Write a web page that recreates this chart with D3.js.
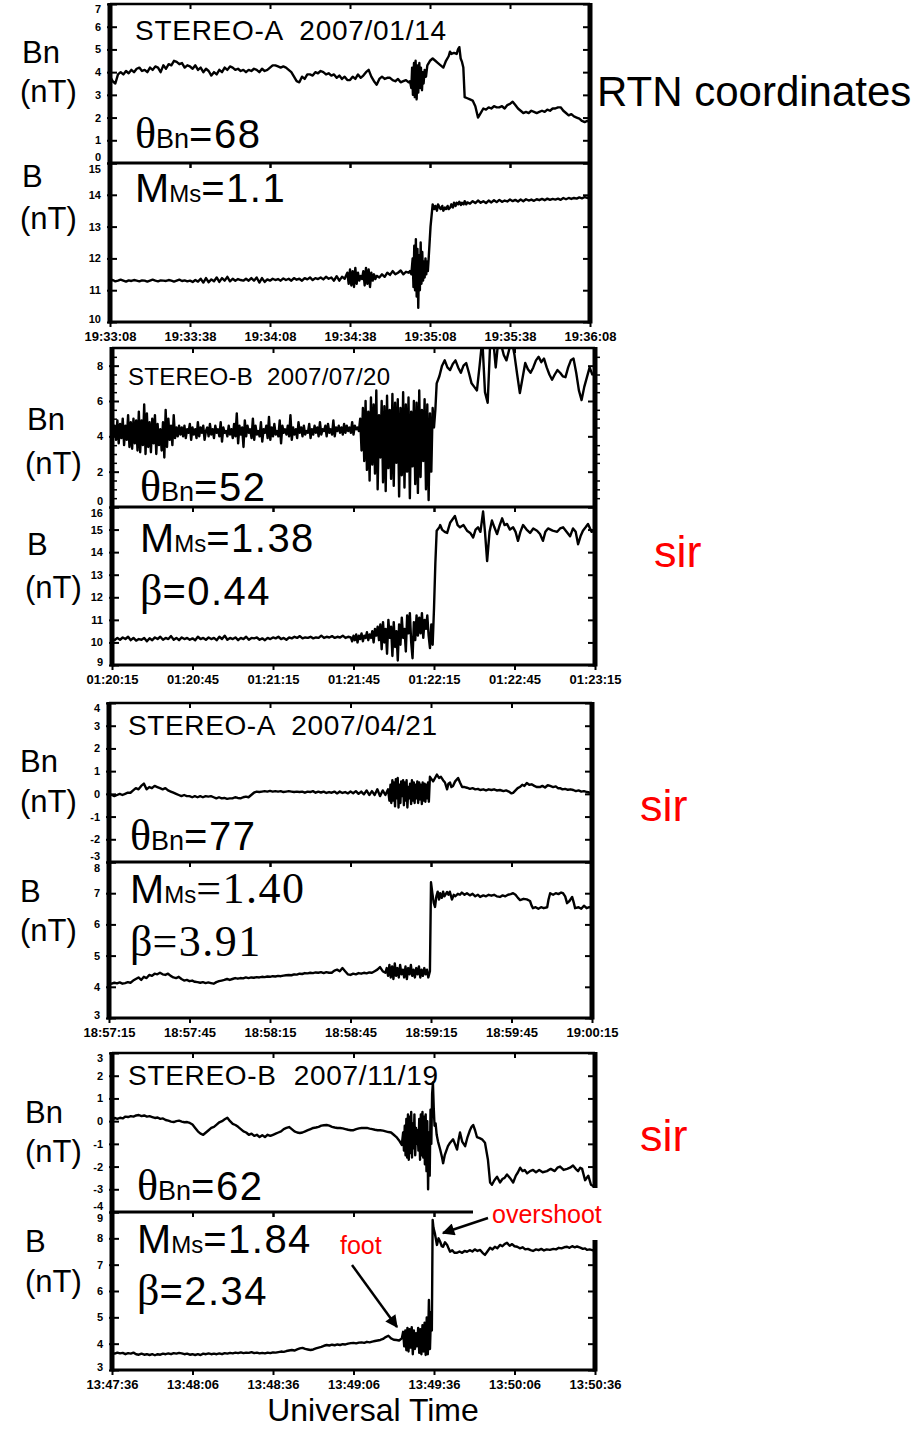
<!DOCTYPE html>
<html>
<head>
<meta charset="utf-8">
<script src="https://cdn.jsdelivr.net/npm/d3@7"></script>
<style>
  body { margin: 0; background: #fff; }
  svg { display: block; }
</style>
</head>
<body>
<svg id="fig" width="919" height="1431"></svg>
<script>
// ---------- tick marks and labels ----------
const timeTicks = [0, 30, 60, 90, 120, 150, 180]; // seconds from first label
const timeLabelsA0114 = ["19:33:08","19:33:38","19:34:08","19:34:38","19:35:08","19:35:38","19:36:08"];
const timeLabelsB0720 = ["01:20:15","01:20:45","01:21:15","01:21:45","01:22:15","01:22:45","01:23:15"];
const timeLabelsA0421 = ["18:57:15","18:57:45","18:58:15","18:58:45","18:59:15","18:59:45","19:00:15"];
const timeLabelsB1119 = ["13:47:36","13:48:06","13:48:36","13:49:06","13:49:36","13:50:06","13:50:36"];

const bnTicksA0114 = [0,1,2,3,4,5,6,7];
const bTicksA0114  = [10,11,12,13,14,15];
const bnTicksB0720 = [0,2,4,6,8];
const bnMinorB0720 = [0.5,1,1.5,2.5,3,3.5,4.5,5,5.5,6.5,7,7.5,8.5];
const bTicksB0720  = [9,10,11,12,13,14,15,16];
const bnTicksA0421 = [-3,-2,-1,0,1,2,3,4];
const bTicksA0421  = [3,4,5,6,7,8];
const bnTicksB1119 = [-4,-3,-2,-1,0,1,2,3];
const bTicksB1119  = [3,4,5,6,7,8,9];

// ---------- event annotations ----------
const eventTitles = ["STEREO-A  2007/01/14", "STEREO-B  2007/07/20", "STEREO-A  2007/04/21", "STEREO-B  2007/11/19"];
const thetaBn = ["68", "52", "77", "62"];
const machMs  = ["1.1", "1.38", "1.40", "1.84"];
const betaVals = [null, "0.44", "3.91", "2.34"];
const eventTypes = [null, "sir", "sir", "sir"];

// ---------- STEREO-A 2007/01/14 : [seconds, nT] ----------
const bnA0114 = [[0,3.8],[1,3.6],[2,3.5],[3,3.9],[4,4.0],[5,3.9],[6,4.05],[7,3.95],[8,4.1],[9,4.0],[10,4.15],[11,4.2],[12,4.05],[13,4.1],[14,4.0],[15,4.2],[16,4.1],[17,4.25],[18,4.2],[19,4.0],[20,4.3],[21,4.15],[22,4.35],[23,4.3],[24,4.5],[25,4.45],[26,4.35],[27,4.4],[28,4.2],[29,4.3],[30,4.25],[31,4.15],[32,4.3],[33,4.1],[34,4.2],[35,4.0],[36,4.15],[37,4.05],[38,3.85],[39,4.0],[40,3.9],[41,4.1],[42,4.0],[43,4.2],[44,4.1],[45,4.25],[46,4.2],[47,4.1],[48,4.15],[49,4.05],[50,4.1],[51,4.0],[52,4.1],[53,4.05],[54,4.15],[55,4.1],[56,4.0],[57,4.15],[58,4.05],[59,4.1],[60,4.2],[61,4.3],[62,4.3],[63,4.25],[64,4.2],[65,4.25],[66,4.2],[67,4.1],[68,4.0],[69,3.8],[70,3.6],[71,3.55],[72,3.8],[73,3.7],[74,3.9],[75,3.9],[76,3.85],[77,4.0],[78,3.95],[79,4.05],[80,4.0],[81,3.9],[82,3.95],[83,3.85],[84,3.9],[85,3.75],[86,3.85],[87,3.7],[88,3.8],[89,3.65],[90,3.65],[91,3.8],[92,3.7],[93,3.9],[94,3.75],[95,3.85],[96,4.0],[97,4.1],[98,3.8],[99,3.6],[100,3.45],[101,3.7],[102,3.8],[103,3.7],[104,3.75],[105,3.75],[106,3.65],[107,3.6],[108,3.7],[109,3.55],[110,3.6],[111,3.65],[112,3.55],[112.5,3.6],[113,3.3],[113.3,4.2],[113.6,3.0],[114,4.4],[114.3,2.9],[114.6,4.5],[115,2.8],[115.3,4.3],[115.6,3.1],[116,4.4],[116.3,3.3],[116.6,4.2],[117,3.2],[117.3,4.0],[117.6,3.5],[118,4.1],[118.5,3.8],[119,4.3],[120,4.5],[121,4.6],[122,4.5],[123,4.4],[124,4.3],[125,4.2],[126,4.5],[127,4.7],[127.5,4.9],[128,4.8],[129,4.85],[130,4.8],[130.5,5.0],[131,5.1],[131.5,4.6],[132,4.45],[132.5,4.2],[133,2.9],[134,2.85],[135,2.8],[136,2.75],[137,2.5],[138,2.0],[139,2.2],[140,2.4],[141,2.35],[142,2.45],[143,2.4],[144,2.5],[145,2.45],[146,2.45],[147,2.5],[148,2.4],[149,2.55],[150,2.6],[151,2.7],[152,2.55],[153,2.4],[154,2.3],[155,2.2],[156,2.25],[157,2.2],[158,2.3],[159,2.25],[160,2.2],[161,2.25],[162,2.3],[163,2.25],[164,2.35],[165,2.3],[166,2.4],[167,2.4],[168,2.45],[169,2.45],[170,2.3],[171,2.2],[172,2.1],[173,2.15],[174,2.05],[175,2.0],[176,1.95],[177,1.85],[178,1.8],[179,1.85],[180,1.8]];

const bA0114 = [[0,11.3],[1,11.32],[2,11.28],[3,11.3],[4,11.33],[5,11.3],[6,11.27],[7,11.31],[8,11.29],[9,11.32],[10,11.3],[11,11.28],[12,11.31],[13,11.3],[14,11.27],[15,11.3],[16,11.33],[17,11.3],[18,11.28],[19,11.31],[20,11.3],[21,11.29],[22,11.32],[23,11.3],[24,11.27],[25,11.3],[26,11.33],[27,11.29],[28,11.31],[29,11.28],[30,11.3],[31,11.26],[32,11.32],[33,11.27],[34,11.36],[35,11.24],[36,11.38],[37,11.25],[38,11.34],[39,11.28],[40,11.4],[41,11.26],[42,11.38],[43,11.3],[44,11.42],[45,11.28],[46,11.36],[47,11.3],[48,11.35],[49,11.32],[50,11.3],[51,11.36],[52,11.3],[53,11.38],[54,11.3],[55,11.4],[56,11.24],[57,11.38],[58,11.26],[59,11.34],[60,11.3],[61,11.36],[62,11.32],[63,11.35],[64,11.3],[65,11.37],[66,11.32],[67,11.36],[68,11.3],[69,11.38],[70,11.33],[71,11.36],[72,11.3],[73,11.38],[74,11.34],[75,11.4],[76,11.32],[77,11.38],[78,11.35],[79,11.4],[80,11.34],[81,11.42],[82,11.36],[83,11.4],[84,11.3],[85,11.44],[86,11.3],[87,11.42],[88,11.36],[89,11.55],[89.5,11.2],[90,11.65],[90.5,11.15],[91,11.6],[91.5,11.1],[92,11.7],[92.5,11.2],[93,11.55],[93.5,11.3],[94,11.45],[94.5,11.35],[95,11.6],[95.5,11.15],[96,11.7],[96.5,11.2],[97,11.65],[97.5,11.1],[98,11.55],[98.5,11.3],[99,11.5],[99.5,11.35],[100,11.45],[101,11.4],[102,11.5],[103,11.42],[104,11.55],[105,11.48],[106,11.6],[107,11.5],[108,11.55],[109,11.62],[110,11.5],[111,11.58],[112,11.55],[112.5,11.6],[113,11.5],[113.5,12.0],[113.8,11.1],[114.1,12.4],[114.4,11.0],[114.7,12.6],[115,10.8],[115.3,12.3],[115.6,10.45],[115.9,12.1],[116.2,11.0],[116.5,12.5],[116.8,11.2],[117.1,12.2],[117.4,11.3],[117.7,11.9],[118,11.4],[118.3,12.0],[118.6,11.5],[118.9,11.9],[119.2,11.6],[119.5,12.0],[120.2,13.0],[121,13.7],[121.6,13.55],[122,13.65],[122.6,13.5],[123,13.7],[123.6,13.6],[124,13.55],[124.6,13.65],[125,13.5],[125.6,13.6],[126,13.55],[126.6,13.65],[127,13.55],[127.6,13.6],[128,13.7],[128.6,13.6],[129,13.75],[129.6,13.65],[130,13.75],[130.6,13.7],[131,13.78],[131.6,13.68],[132,13.75],[132.6,13.7],[133,13.8],[133.6,13.7],[134,13.76],[135,13.72],[136,13.8],[137,13.74],[138,13.82],[139,13.75],[140,13.8],[141,13.74],[142,13.82],[143,13.76],[144,13.83],[145,13.77],[146,13.84],[147,13.78],[148,13.82],[149,13.79],[150,13.85],[151,13.8],[152,13.84],[153,13.79],[154,13.85],[155,13.8],[156,13.86],[157,13.82],[158,13.85],[159,13.81],[160,13.86],[161,13.83],[162,13.87],[163,13.83],[164,13.88],[165,13.84],[166,13.87],[167,13.85],[168,13.88],[169,13.84],[170,13.9],[171,13.86],[172,13.9],[173,13.87],[174,13.9],[175,13.88],[176,13.92],[177,13.89],[178,13.93],[179,13.9],[180,13.95]];

// ---------- STEREO-B 2007/07/20 ----------
// Bn sampled every 0.5 s from 0 s to 120.5 s, then irregular samples
const bnB0720Dense = [
  4.4,4.0,4.6,3.8,4.9,3.6,4.7,3.9,5.0,3.5,4.6,3.8,5.2,3.4,4.8,3.3,5.0,3.6,4.9,3.2,5.4,3.1,4.9,3.5,5.8,3.0,5.3,3.4,4.8,3.1,5.0,3.6,5.2,3.0,4.7,3.5,4.4,3.2,4.8,2.8,5.5,3.4,5.0,3.8,4.6,3.5,5.2,3.9,4.5,4.0,4.6,
  4.1,4.5,4.0,4.6,3.9,4.4,4.2,4.7,3.8,4.5,4.1,4.4,3.9,4.8,4.0,4.5,4.2,4.6,3.8,4.3,
  4.5,4.0,4.7,4.1,4.4,3.9,4.6,4.2,4.4,4.0,4.8,3.7,4.5,4.2,4.3,4.0,4.6,4.1,4.4,3.9,
  4.7,4.0,5.3,3.6,4.6,4.1,4.5,3.4,4.9,4.0,4.6,4.2,4.4,3.9,5.0,3.8,4.6,4.1,4.3,4.0,
  4.8,3.7,4.4,4.2,4.6,3.9,5.1,3.8,4.5,4.0,4.7,4.1,4.3,4.0,4.9,3.6,4.6,4.2,4.4,4.1,
  4.6,4.0,5.2,3.8,4.5,4.1,4.4,3.9,4.8,4.2,4.5,4.0,4.6,4.1,4.3,4.2,4.7,3.9,4.4,4.1,
  4.6,4.2,4.5,4.0,4.8,4.1,4.4,4.3,4.6,4.0,4.7,4.2,4.4,4.1,4.9,4.0,4.5,4.3,4.6,4.2,
  4.5,4.1,4.7,4.2,4.6,4.3,4.5,4.2,4.8,4.1,4.6,4.4,4.5,4.3,
  5.0,3.2,5.6,2.6,6.0,2.1,5.4,1.5,6.2,2.4,5.8,1.9,6.6,1.0,5.2,2.8,6.0,1.4,5.7,0.9,
  6.3,2.2,5.5,1.6,6.4,1.2,5.9,2.5,6.1,0.6,5.6,1.8,6.5,1.1,5.8,2.0,6.2,0.5,5.4,2.3,
  6.0,1.3,5.9,0.8,6.6,1.7,5.5,2.6,6.1,1.0,5.8,0.4,5.3,2.0,5.6,4.5,5.5
];
const bnB0720Tail = [[121,7.0],[122,7.4],[123,8.0],[124,8.3],[125,7.9],[126,7.75],[127,8.1],[128,8.3],[129,7.9],[130,7.6],[131,8.0],[132,8.15],[133,7.6],[134,7.0],[135,6.8],[136,6.6],[137,8.0],[138,9.5],[139,6.5],[140,5.9],[141,9.5],[142,9.6],[143,7.9],[144,9.5],[145,9.2],[146,8.6],[147,8.3],[148,8.9],[149,9.4],[150,8.6],[151,7.5],[152,6.45],[153,7.3],[154,8.15],[155,7.8],[156,7.6],[157,7.9],[158,8.3],[159,8.5],[160,8.2],[161,8.4],[162,7.9],[163,7.5],[164,7.2],[165,7.5],[166,7.75],[167,7.6],[168,7.4],[169,7.35],[170,7.9],[171,8.3],[172,8.4],[173,7.6],[174,6.6],[175,6.05],[176,6.8],[177,7.35],[178,7.9],[179,7.5],[180,7.6]];

const bB0720 = [[0,10.15],[1,10.1],[2,10.2],[3,10.12],[4,10.22],[5,10.15],[6,10.25],[7,10.1],[8,10.2],[9,10.08],[10,10.15],[11,10.12],[12,10.2],[13,10.05],[14,10.18],[15,10.1],[16,10.22],[17,10.15],[18,10.25],[19,10.12],[20,10.2],[21,10.15],[22,10.28],[23,10.12],[24,10.2],[25,10.1],[26,10.22],[27,10.15],[28,10.2],[29,10.12],[30,10.18],[31,10.1],[32,10.25],[33,10.15],[34,10.2],[35,10.12],[36,10.22],[37,10.15],[38,10.2],[39,10.1],[40,10.25],[41,10.15],[42,10.3],[43,10.12],[44,10.2],[45,10.15],[46,10.22],[47,10.1],[48,10.2],[49,10.15],[50,10.25],[51,10.12],[52,10.2],[53,10.18],[54,10.22],[55,10.12],[56,10.18],[57,10.1],[58,10.2],[59,10.15],[60,10.22],[61,10.18],[62,10.25],[63,10.15],[64,10.2],[65,10.12],[66,10.22],[67,10.18],[68,10.25],[69,10.2],[70,10.28],[71,10.18],[72,10.22],[73,10.2],[74,10.25],[75,10.18],[76,10.22],[77,10.2],[78,10.3],[79,10.2],[80,10.25],[81,10.22],[82,10.28],[83,10.2],[84,10.25],[85,10.22],[86,10.3],[87,10.2],[88,10.25],[89,10.22],[89.5,10.05],[90,10.3],[90.5,10.1],[91,10.35],[91.5,10.0],[92,10.3],[92.5,10.15],[93,10.4],[93.5,10.05],[94,10.3],[94.5,10.2],[95,10.45],[95.5,10.1],[96,10.35],[96.5,10.2],[97,10.5],[97.5,10.0],[98,10.6],[98.5,10.3],[99,10.7],[99.5,10.1],[100,10.8],[100.5,9.7],[101,10.9],[101.5,10.0],[102,10.6],[102.5,9.5],[103,11.0],[103.5,10.2],[104,10.7],[104.5,9.4],[105,10.9],[105.5,9.8],[106,10.5],[106.5,9.2],[107,10.8],[107.5,9.9],[108,11.1],[108.5,10.2],[109,10.6],[109.5,9.6],[110,11.2],[110.5,10.4],[111,11.3],[111.5,10.0],[112,9.3],[112.5,10.9],[113,10.1],[113.5,11.2],[114,10.3],[114.5,11.1],[115,10.4],[115.5,11.3],[116,10.2],[116.5,11.0],[117,10.6],[117.5,11.2],[118,10.3],[118.5,9.75],[119,10.8],[119.5,9.9],[120,11.5],[120.5,13.5],[121,14.95],[122,15.1],[122.3,15.2],[123,15.0],[124,14.9],[124.9,14.85],[126,15.3],[127.8,15.6],[128.8,15.2],[129.7,15.1],[131,15.2],[132.3,14.95],[133.5,14.85],[134.6,14.65],[135.5,15.0],[136.4,15.1],[137.3,14.9],[138.3,15.8],[139,14.9],[139.8,13.6],[140.7,14.9],[141.6,15.4],[142.5,15.1],[143.5,14.8],[144.5,15.2],[145.4,15.5],[146.3,15.2],[147.2,15.25],[148.3,15.0],[149.5,15.1],[150.4,14.9],[151.3,14.5],[152.2,14.9],[153.2,15.2],[154.5,15.0],[155.8,14.85],[157,15.05],[158.4,14.95],[159.5,14.8],[160.6,14.5],[161.5,14.9],[162.5,15.05],[164.2,14.95],[165.9,14.9],[167,15.05],[168.1,15.1],[169.4,14.9],[170.7,14.7],[171.8,15.05],[172.8,14.9],[173.7,14.35],[174.6,14.7],[175.5,14.95],[176.5,15.1],[177.4,15.25],[178.7,14.9],[180,14.95]];

// ---------- STEREO-A 2007/04/21 ----------
const bnA0421 = [[0,0.0],[1,-0.05],[2,-0.1],[3,-0.05],[4,0.0],[5,-0.05],[6,0.0],[7,0.05],[8,0.05],[9,0.15],[10,0.25],[11,0.2],[12,0.35],[13,0.45],[14,0.2],[15,0.3],[16,0.25],[17,0.35],[18,0.3],[19,0.25],[20,0.2],[21,0.25],[22,0.15],[23,0.1],[24,0.05],[25,0.0],[26,-0.05],[27,-0.1],[28,-0.05],[29,-0.1],[30,-0.1],[31,-0.15],[32,-0.1],[33,-0.15],[34,-0.1],[35,-0.15],[36,-0.1],[37,-0.12],[38,-0.1],[39,-0.15],[40,-0.2],[41,-0.15],[42,-0.2],[43,-0.18],[44,-0.22],[45,-0.2],[46,-0.2],[47,-0.15],[48,-0.18],[49,-0.2],[50,-0.15],[51,-0.12],[52,-0.15],[53,-0.05],[54,0.05],[55,0.1],[56,0.08],[57,0.1],[58,0.12],[59,0.1],[60,0.13],[61,0.1],[62,0.12],[63,0.1],[64,0.12],[65,0.08],[66,0.1],[67,0.12],[68,0.1],[69,0.08],[70,0.1],[71,0.08],[72,0.1],[73,0.05],[74,0.1],[75,0.08],[76,0.12],[77,0.05],[78,0.1],[79,0.06],[80,0.1],[81,0.04],[82,0.08],[83,0.05],[84,0.1],[85,0.02],[86,0.1],[87,0.04],[88,0.08],[89,0.02],[90,0.1],[91,0.03],[92,0.12],[93,0.0],[94,0.1],[95,-0.02],[96,0.15],[97,-0.05],[98,0.12],[99,-0.05],[100,0.2],[101,-0.1],[102,0.15],[103,-0.05],[104,0.2],[104.5,-0.3],[104.9,0.4],[105.2,-0.4],[105.6,0.6],[105.9,-0.3],[106.2,0.5],[106.6,-0.55],[106.9,0.65],[107.2,-0.2],[107.6,0.7],[107.9,-0.6],[108.2,0.4],[108.6,-0.4],[108.9,0.55],[109.2,-0.1],[109.6,0.6],[109.9,-0.5],[110.2,0.5],[110.6,-0.3],[110.9,0.6],[111.2,-0.6],[111.6,0.3],[111.9,-0.2],[112.2,0.45],[112.6,-0.45],[112.9,0.6],[113.2,-0.3],[113.6,0.5],[113.9,-0.4],[114.2,0.4],[114.6,-0.2],[114.9,0.55],[115.2,-0.4],[115.6,0.5],[115.9,-0.25],[116.2,0.4],[116.6,-0.45],[116.9,0.5],[117.2,-0.3],[117.6,0.45],[117.9,-0.35],[118.2,0.4],[118.6,-0.2],[118.9,0.5],[119.2,-0.35],[119.6,0.75],[120.8,0.55],[121.5,0.7],[122.2,0.85],[123,0.7],[123.7,0.75],[124.5,0.6],[125.2,0.5],[126,0.2],[126.5,0.45],[127.1,0.5],[127.6,0.3],[128.2,0.35],[129,0.55],[130.1,0.7],[130.8,0.5],[131.6,0.3],[132.5,0.3],[133.4,0.27],[134.5,0.22],[135.5,0.25],[136.5,0.2],[137.5,0.22],[138.3,0.17],[139.5,0.2],[140.5,0.15],[141.5,0.2],[142.5,0.17],[143.5,0.2],[144.5,0.15],[145.7,0.17],[147,0.12],[148,0.15],[149,0.1],[150,0.02],[150.6,0.04],[151.5,0.15],[152.3,0.25],[153.1,0.3],[154,0.4],[154.8,0.35],[155.7,0.48],[156.6,0.4],[157.5,0.42],[158.5,0.35],[159.5,0.3],[160.6,0.3],[161.5,0.35],[162.5,0.28],[163.5,0.38],[164.4,0.35],[165.5,0.3],[166.5,0.33],[167.3,0.25],[168.1,0.25],[169,0.2],[170,0.22],[171,0.18],[172,0.2],[173,0.17],[174,0.12],[175,0.15],[176,0.1],[177,0.12],[178.2,0.08],[179,0.06],[180,0.05]];

const bA0421 = [[0,4.12],[1,4.1],[2,4.13],[3,4.11],[4,4.14],[5,4.1],[6,4.12],[7,4.15],[8,4.13],[9,4.2],[10,4.25],[11,4.3],[12,4.22],[13,4.32],[14,4.28],[15,4.38],[16,4.35],[17,4.42],[18,4.4],[19,4.45],[20,4.4],[21,4.38],[22,4.42],[23,4.35],[24,4.3],[25,4.28],[26,4.32],[27,4.25],[28,4.2],[29,4.22],[30,4.18],[31,4.2],[32,4.16],[33,4.15],[34,4.13],[35,4.15],[36,4.12],[37,4.14],[38,4.12],[39,4.1],[40,4.15],[41,4.18],[42,4.2],[43,4.22],[44,4.25],[45,4.22],[46,4.25],[47,4.28],[48,4.26],[49,4.28],[50,4.27],[51,4.3],[52,4.28],[53,4.3],[54,4.29],[55,4.31],[56,4.3],[57,4.32],[58,4.31],[59,4.33],[60,4.32],[61,4.34],[62,4.33],[63,4.35],[64,4.34],[65,4.36],[66,4.37],[67,4.38],[68,4.37],[69,4.4],[70,4.39],[71,4.42],[72,4.41],[73,4.44],[74,4.43],[75,4.45],[76,4.44],[77,4.46],[78,4.45],[79,4.47],[80,4.44],[81,4.47],[82,4.45],[83,4.45],[84,4.52],[85,4.55],[86,4.5],[87,4.6],[88,4.5],[89,4.4],[90,4.38],[91,4.42],[92,4.4],[93,4.44],[94,4.42],[95,4.45],[96,4.43],[97,4.46],[98,4.45],[99,4.5],[100,4.55],[101,4.63],[102,4.5],[103,4.45],[103.5,4.6],[104,4.35],[104.5,4.7],[105,4.3],[105.5,4.65],[106,4.25],[106.5,4.75],[107,4.35],[107.5,4.6],[108,4.3],[108.5,4.7],[109,4.4],[109.5,4.55],[110,4.3],[110.5,4.65],[111,4.25],[111.5,4.6],[112,4.4],[112.5,4.7],[113,4.35],[113.5,4.55],[114,4.3],[114.5,4.6],[115,4.4],[115.5,4.65],[116,4.3],[116.5,4.55],[117,4.35],[117.5,4.6],[118,4.4],[118.5,4.55],[119,4.3],[119.6,4.5],[120,7.35],[120.5,7.0],[121,6.7],[121.5,6.56],[122,6.9],[122.5,7.05],[123,6.8],[123.4,7.0],[124,6.85],[124.5,7.05],[125,6.9],[126,7.04],[126.5,6.95],[127,7.05],[127.8,6.8],[128.5,6.95],[129,6.9],[130,6.98],[130.8,6.95],[131.5,7.02],[132.5,6.95],[133.4,7.0],[134.5,6.93],[135.5,6.98],[136.5,6.9],[137.5,6.95],[138.3,6.88],[139.5,6.93],[140.5,6.9],[141.5,6.95],[142.5,6.92],[143.5,6.95],[144.5,6.9],[145.7,6.88],[146.7,6.93],[147.7,6.9],[148.7,6.95],[149.7,6.97],[150.6,7.0],[151.5,6.95],[152.4,6.85],[153.2,6.78],[154.5,6.82],[155.7,6.8],[156.9,6.75],[157.5,6.6],[158,6.52],[159,6.55],[160,6.5],[161,6.55],[162,6.52],[163.3,6.55],[163.8,6.8],[164.4,7.0],[165.5,6.95],[166.5,7.0],[167.5,6.97],[168.5,7.02],[169.2,7.0],[170,6.9],[170.7,6.68],[171.6,6.75],[172.6,6.88],[173.2,6.7],[173.7,6.52],[175,6.55],[176,6.5],[177,6.6],[178,6.52],[179,6.55],[180,6.52]];

// ---------- STEREO-B 2007/11/19 ----------
const bnB1119 = [[0,0.05],[1,0.14],[2,0.1],[3,0.15],[4,0.12],[5,0.2],[6,0.18],[7,0.22],[8,0.2],[9,0.25],[10,0.27],[11,0.22],[12,0.25],[13,0.2],[14,0.22],[15,0.18],[16,0.14],[17,0.16],[18,0.1],[19,0.12],[20,0.05],[21,0.02],[22,-0.02],[23,-0.04],[24,0.0],[25,0.02],[26,-0.02],[27,-0.05],[28,-0.04],[29,-0.08],[30,-0.15],[31,-0.3],[32,-0.45],[33,-0.55],[34,-0.6],[35,-0.5],[36,-0.4],[37,-0.3],[38,-0.25],[39,-0.15],[40,-0.05],[41,0.0],[42,0.08],[43,0.15],[44,0.0],[45,-0.12],[46,-0.17],[47,-0.25],[48,-0.35],[49,-0.45],[50,-0.5],[51,-0.6],[52,-0.55],[53,-0.65],[54,-0.6],[55,-0.7],[56,-0.62],[57,-0.7],[58,-0.6],[59,-0.65],[60,-0.6],[61,-0.55],[62,-0.5],[63,-0.45],[64,-0.35],[65,-0.3],[66,-0.26],[67,-0.35],[68,-0.45],[69,-0.5],[70,-0.52],[71,-0.5],[72,-0.45],[73,-0.4],[74,-0.35],[75,-0.3],[76,-0.28],[77,-0.25],[78,-0.2],[79,-0.18],[80,-0.17],[81,-0.2],[82,-0.25],[83,-0.28],[84,-0.3],[85,-0.3],[86,-0.32],[87,-0.35],[88,-0.38],[89,-0.4],[90,-0.4],[91,-0.35],[92,-0.32],[93,-0.3],[94,-0.3],[95,-0.3],[96,-0.33],[97,-0.35],[98,-0.38],[99,-0.4],[100,-0.4],[101,-0.42],[102,-0.45],[103,-0.48],[104,-0.5],[105,-0.6],[106,-0.7],[107,-0.85],[108,-1.05],[108.5,-0.5],[108.8,-1.3],[109.1,-0.2],[109.4,-1.5],[109.7,0.1],[110,-1.6],[110.3,0.3],[110.6,-1.7],[110.9,0.2],[111.2,-1.4],[111.5,0.4],[111.8,-1.6],[112.1,-0.1],[112.4,-1.2],[112.7,0.3],[113,-1.5],[113.3,-0.3],[113.6,-1.0],[113.9,-0.4],[114.2,-1.3],[114.5,0.1],[114.8,-1.7],[115.1,0.3],[115.4,-1.5],[115.7,0.4],[116,-1.6],[116.3,0.2],[116.6,-1.9],[116.9,0.3],[117.2,-2.2],[117.5,0.0],[117.8,-3.0],[118.1,-0.5],[118.4,-2.4],[118.7,0.5],[119,-1.0],[119.3,1.2],[119.6,1.7],[119.9,0.6],[120.2,-0.2],[120.6,-0.1],[121,-0.6],[121.5,-0.9],[122.3,-1.25],[123,-1.6],[123.4,-1.85],[124,-1.5],[125.2,-1.1],[126,-0.95],[127.1,-0.8],[127.8,-1.0],[128.6,-1.25],[129.2,-0.8],[129.7,-0.5],[130.5,-0.9],[131.6,-1.1],[132.5,-0.7],[133.4,-0.4],[134,-0.25],[134.6,-0.17],[135.3,-0.4],[136,-0.7],[137,-0.75],[137.9,-0.8],[139,-0.95],[140.1,-1.7],[140.9,-2.7],[141.6,-2.8],[142.5,-2.6],[143.5,-2.45],[144.6,-2.7],[145.5,-2.55],[146.3,-2.5],[147.2,-2.35],[148.3,-2.5],[149.5,-2.7],[150.5,-2.4],[151.3,-2.25],[152.1,-2.05],[153,-2.2],[153.8,-2.15],[154.7,-2.3],[155.8,-2.2],[156.9,-2.15],[158,-2.25],[159.2,-2.15],[160.5,-2.25],[162.1,-2.2],[163.5,-2.1],[165,-2.2],[166,-2.05],[167,-2.0],[168.3,-2.15],[169.6,-2.1],[170.7,-2.05],[171.8,-1.95],[172.8,-2.1],[173.7,-2.2],[174.5,-2.05],[175.2,-2.1],[176.3,-2.6],[177.5,-2.4],[178.5,-2.8],[180,-2.9]];

const bB1119 = [[0,3.65],[1,3.62],[2,3.66],[3,3.63],[4,3.65],[5,3.6],[6,3.64],[7,3.62],[8,3.66],[9,3.6],[10,3.58],[11,3.62],[12,3.58],[13,3.6],[14,3.57],[15,3.6],[16,3.56],[17,3.6],[18,3.58],[19,3.62],[20,3.6],[21,3.63],[22,3.6],[23,3.64],[24,3.62],[25,3.65],[26,3.63],[27,3.6],[28,3.62],[29,3.58],[30,3.6],[31,3.57],[32,3.6],[33,3.57],[34,3.62],[35,3.6],[36,3.63],[37,3.6],[38,3.62],[39,3.6],[40,3.63],[41,3.6],[42,3.64],[43,3.62],[44,3.65],[45,3.63],[46,3.66],[47,3.64],[48,3.67],[49,3.64],[50,3.66],[51,3.65],[52,3.68],[53,3.64],[54,3.66],[55,3.63],[56,3.65],[57,3.63],[58,3.66],[59,3.64],[60,3.67],[61,3.66],[62,3.68],[63,3.7],[64,3.69],[65,3.72],[66,3.74],[67,3.76],[68,3.74],[69,3.78],[70,3.82],[71,3.84],[72,3.8],[73,3.78],[74,3.76],[75,3.78],[76,3.82],[77,3.85],[78,3.88],[79,3.92],[80,3.95],[81,3.93],[82,3.96],[83,3.94],[84,3.97],[85,3.95],[86,3.98],[87,3.97],[88,4.0],[89,4.02],[90,4.03],[91,4.01],[92,4.04],[93,4.05],[94,4.03],[95,4.07],[96,4.05],[97,4.08],[98,4.1],[99,4.12],[100,4.14],[101,4.18],[102,4.25],[103,4.3],[104,4.2],[105,4.15],[106,4.14],[107,4.12],[108,4.2],[108.5,4.45],[108.9,3.9],[109.3,4.5],[109.7,3.75],[110.1,4.6],[110.5,3.7],[110.9,4.55],[111.3,3.85],[111.7,4.63],[112.1,3.6],[112.5,4.5],[112.9,3.8],[113.3,4.4],[113.7,3.9],[114.1,4.6],[114.5,3.65],[114.9,4.55],[115.3,3.6],[115.7,4.7],[116.1,3.7],[116.5,4.8],[116.9,3.57],[117.3,5.0],[117.7,3.6],[118.1,5.66],[118.5,3.8],[118.9,5.2],[119.2,4.5],[119.5,8.7],[119.8,8.4],[120.3,8.2],[121.1,7.75],[121.7,8.0],[122.3,7.87],[122.9,7.7],[123.4,7.68],[124.1,7.85],[124.9,7.75],[125.5,7.6],[126,7.49],[126.8,7.55],[127.6,7.45],[128.6,7.45],[129.5,7.5],[130.5,7.45],[131.4,7.52],[132.3,7.49],[133.3,7.55],[134.3,7.5],[135.2,7.58],[136.2,7.52],[137.2,7.56],[138.1,7.45],[139,7.37],[139.9,7.5],[140.9,7.64],[141.8,7.58],[142.7,7.68],[143.6,7.62],[144.6,7.75],[145.5,7.7],[146.3,7.78],[147.2,7.83],[148.2,7.72],[149.1,7.78],[150,7.7],[151,7.68],[152,7.62],[153,7.66],[154,7.58],[155,7.6],[156,7.55],[156.9,7.52],[158,7.58],[159,7.55],[160,7.6],[161,7.54],[162,7.58],[163.2,7.56],[164.5,7.6],[165.5,7.58],[166.5,7.64],[167.5,7.62],[168.5,7.66],[169.6,7.68],[170.5,7.64],[171.5,7.7],[172.5,7.66],[173.3,7.69],[174.5,7.65],[175.5,7.6],[176.3,7.62],[177,7.56],[178,7.58],[179,7.55],[180,7.56]];

// ---------- drawing ----------
const SANS = "'Liberation Sans', Arial, Helvetica, sans-serif";
const SERIF = "'Liberation Serif', 'Times New Roman', Times, serif";
const RED = "#ff0000";
const svg = d3.select("#fig");

const bnB0720 = bnB0720Dense.map((v, i) => [i * 0.5, v]).concat(bnB0720Tail);

const events = [
  { bn: bnA0114, b: bA0114, bnDomain: [0, 7],  bDomain: [10, 15], bnTicks: bnTicksA0114, bnMinor: [], bTicks: bTicksA0114, times: timeLabelsA0114,
    box: { x0: 110, x1: 590, top: 4, mid: 163, bot: 322 },
    side: { bn: [22, 63, 20, 102], b: [22, 187, 20, 229] },
    title: { x: 135, y: 40, size: 28, len: 311 }, rows: [[135, 148], [135, 202]], sideType: null },
  { bn: bnB0720, b: bB0720, bnDomain: [0, 9],  bDomain: [9, 16], bnTicks: bnTicksB0720, bnMinor: bnMinorB0720, bTicks: bTicksB0720, times: timeLabelsB0720,
    box: { x0: 112, x1: 595, top: 348, mid: 507, bot: 665 },
    side: { bn: [27, 430, 25, 474], b: [27, 555, 25, 598] },
    title: { x: 128, y: 385, size: 24, len: 262 }, rows: [[140, 501], [140, 552], [140, 605]], sideType: [654, 567] },
  { bn: bnA0421, b: bA0421, bnDomain: [-3, 4], bDomain: [3, 8], bnTicks: bnTicksA0421, bnMinor: [], bTicks: bTicksA0421, times: timeLabelsA0421,
    box: { x0: 109, x1: 592, top: 703, mid: 862, bot: 1018 },
    side: { bn: [20, 772, 20, 812], b: [20, 902, 20, 941] },
    title: { x: 128, y: 735, size: 28, len: 309 }, rows: [[130, 850], [130, 903], [130, 956]], sideType: [640, 821], serifNumbers: true },
  { bn: bnB1119, b: bB1119, bnDomain: [-4, 3], bDomain: [3, 9], bnTicks: bnTicksB1119, bnMinor: [], bTicks: bTicksB1119, times: timeLabelsB1119,
    box: { x0: 112, x1: 595, top: 1053, mid: 1212, bot: 1370 },
    side: { bn: [25, 1123, 25, 1162], b: [25, 1252, 25, 1292] },
    title: { x: 128, y: 1085, size: 28, len: 310 }, rows: [[137, 1200], [137, 1253], [137, 1305]], sideType: [640, 1151] }
];

const defs = svg.append("defs");
defs.append("marker").attr("id", "head").attr("viewBox", "0 0 10 10")
  .attr("refX", 9).attr("refY", 5).attr("markerWidth", 6).attr("markerHeight", 5)
  .attr("markerUnits", "strokeWidth").attr("orient", "auto")
  .append("path").attr("d", "M0,0 L10,5 L0,10 Z").attr("fill", "#000");

function styleText(sel, size, weight) {
  sel.attr("font-family", SANS).attr("font-size", size).attr("font-weight", weight || "normal").attr("fill", "#000");
}

events.forEach((ev, k) => {
  const B = ev.box;
  const x = d3.scaleLinear().domain([0, 180]).range([B.x0, B.x1]);
  const yBn = d3.scaleLinear().domain(ev.bnDomain).range([B.mid, B.top]);
  const yB = d3.scaleLinear().domain(ev.bDomain).range([B.bot, B.mid]);
  const g = svg.append("g");

  // clip regions for the two panels
  [["bn", B.top, B.mid], ["b", B.mid, B.bot]].forEach(([n, y0, y1]) => {
    defs.append("clipPath").attr("id", `clip-${n}-${k}`)
      .append("rect").attr("x", B.x0).attr("y", y0).attr("width", B.x1 - B.x0).attr("height", y1 - y0);
  });

  // data traces
  const lineBn = d3.line().x(d => x(d[0])).y(d => yBn(d[1]));
  const lineB = d3.line().x(d => x(d[0])).y(d => yB(d[1]));
  g.append("path").attr("d", lineBn(ev.bn)).attr("clip-path", `url(#clip-bn-${k})`)
    .attr("fill", "none").attr("stroke", "#000").attr("stroke-width", 2.4).attr("stroke-linejoin", "round");
  g.append("path").attr("d", lineB(ev.b)).attr("clip-path", `url(#clip-b-${k})`)
    .attr("fill", "none").attr("stroke", "#000").attr("stroke-width", 2.4).attr("stroke-linejoin", "round");

  // left axes with labels
  [[yBn, ev.bnTicks, ev.bnDomain, "bn"], [yB, ev.bTicks, ev.bDomain, "b"]].forEach(([y, ticks, dom, kind]) => {
    const ax = g.append("g").attr("transform", `translate(${B.x0},0)`)
      .call(d3.axisLeft(y).tickValues(ticks).tickSizeInner(-7).tickSizeOuter(0).tickPadding(9).tickFormat(d => String(d)));
    ax.select(".domain").remove();
    ax.selectAll(".tick line").attr("x1", -3).attr("stroke-width", 2);
    styleText(ax.selectAll("text"), 11, "bold");
    ax.selectAll("text").attr("transform", d => {
      if (d === dom[1]) return `translate(0,${kind === "bn" ? 5 : 6})`;
      if (d === dom[0]) return `translate(0,${kind === "bn" ? -6 : -3})`;
      return null;
    });
    // matching ticks on the right side
    const ar = g.append("g").attr("transform", `translate(${B.x1},0)`)
      .call(d3.axisRight(y).tickValues(ticks).tickSizeInner(-7).tickSizeOuter(0).tickFormat(""));
    ar.select(".domain").remove();
    ar.selectAll(".tick line").attr("stroke-width", 2);
  });
  // minor ticks
  if (ev.bnMinor.length) {
    [[B.x0, -5], [B.x1, 5]].forEach(([xx, s]) => {
      const am = g.append("g").attr("transform", `translate(${xx},0)`)
        .call((s < 0 ? d3.axisLeft(yBn) : d3.axisRight(yBn)).tickValues(ev.bnMinor).tickSizeInner(s).tickSizeOuter(0).tickFormat(""));
      am.select(".domain").remove();
      am.selectAll(".tick line").attr("stroke-width", 1.5);
    });
  }

  // time ticks on the horizontal borders
  [[B.top, -5, "top"], [B.mid, 5, "bottom"], [B.mid, -5, "top"], [B.bot, 5, "bottom"]].forEach(([yy, s, side]) => {
    const at = g.append("g").attr("transform", `translate(0,${yy})`)
      .call((side === "top" ? d3.axisTop(x) : d3.axisBottom(x)).tickValues(timeTicks).tickSizeInner(s).tickSizeOuter(0).tickFormat(""));
    at.select(".domain").remove();
    at.selectAll(".tick line").attr("stroke-width", 2);
  });
  // time labels
  const ab = g.append("g").attr("transform", `translate(0,${B.bot})`)
    .call(d3.axisBottom(x).tickValues(timeTicks).tickSize(0).tickPadding(10).tickFormat((d, i) => ev.times[i]));
  ab.select(".domain").remove();
  styleText(ab.selectAll("text"), 13, "bold");

  // frame
  const frame = [
    [B.x0, B.top, B.x1, B.top, 2.5], [B.x0, B.mid, B.x1, B.mid, 3], [B.x0, B.bot, B.x1, B.bot, 3],
    [B.x0, B.top - 1, B.x0, B.bot + 1.5, 5], [B.x1, B.top - 1, B.x1, B.bot + 1.5, 5]
  ];
  g.selectAll(".frame").data(frame).join("line").attr("class", "frame")
    .attr("x1", d => d[0]).attr("y1", d => d[1]).attr("x2", d => d[2]).attr("y2", d => d[3])
    .attr("stroke", "#000").attr("stroke-width", d => d[4]);

  // side labels
  const sideText = [["Bn", ev.side.bn[0], ev.side.bn[1]], ["(nT)", ev.side.bn[2], ev.side.bn[3]],
                    ["B", ev.side.b[0], ev.side.b[1]], ["(nT)", ev.side.b[2], ev.side.b[3]]];
  g.selectAll(".side").data(sideText).join("text").attr("class", "side")
    .attr("x", d => d[1]).attr("y", d => d[2]).text(d => d[0])
    .call(s => styleText(s, 31));

  // event title
  g.append("text").attr("x", ev.title.x).attr("y", ev.title.y)
    .attr("textLength", ev.title.len).attr("lengthAdjust", "spacing")
    .style("white-space", "pre").text(eventTitles[k])
    .call(s => styleText(s, ev.title.size));

  // shock parameters
  const numFont = ev.serifNumbers ? SERIF : SANS;
  const big = ev.serifNumbers ? 44 : 40;
  const rows = [
    [{ t: "θ", f: SERIF, s: 44 }, { t: "Bn", f: SANS, s: 27 }, { t: "=" + thetaBn[k], f: SANS, s: 40, ls: 1.5 }],
    [{ t: "M", f: SANS, s: 41 }, { t: "Ms", f: SANS, s: 24 }, { t: "=" + machMs[k], f: numFont, s: big, ls: 1.5 }]
  ];
  if (betaVals[k]) rows.push([{ t: "β", f: SERIF, s: 44 }, { t: "=" + betaVals[k], f: numFont, s: big, ls: 1.5 }]);
  rows.forEach((parts, r) => {
    const t = g.append("text").attr("x", ev.rows[r][0]).attr("y", ev.rows[r][1]).attr("fill", "#000");
    parts.forEach(p => t.append("tspan").attr("font-family", p.f).attr("font-size", p.s)
      .attr("letter-spacing", p.ls || 0).text(p.t));
  });

  if (eventTypes[k]) {
    g.append("text").attr("x", ev.sideType[0]).attr("y", ev.sideType[1]).text(eventTypes[k])
      .attr("font-family", SANS).attr("font-size", 45).attr("fill", RED);
  }
});

// label box over the last event
svg.append("rect").attr("x", 473).attr("y", 1188).attr("width", 150).attr("height", 52).attr("fill", "#fff");

svg.append("text").attr("x", 597).attr("y", 106).text("RTN coordinates")
  .attr("font-family", SANS).attr("font-size", 42).attr("fill", "#000");

svg.append("text").attr("x", 373).attr("y", 1421).attr("text-anchor", "middle").text("Universal Time")
  .attr("font-family", SANS).attr("font-size", 32).attr("fill", "#000");

// foot and overshoot callouts
svg.append("text").attr("x", 492).attr("y", 1223).text("overshoot")
  .attr("font-family", SANS).attr("font-size", 25).attr("fill", RED);
svg.append("text").attr("x", 340).attr("y", 1254).text("foot")
  .attr("font-family", SANS).attr("font-size", 25).attr("fill", RED);
const arrows = [[488, 1218, 443, 1233], [352, 1265, 397, 1327]];
svg.selectAll(".arrow").data(arrows).join("line").attr("class", "arrow")
  .attr("x1", d => d[0]).attr("y1", d => d[1]).attr("x2", d => d[2]).attr("y2", d => d[3])
  .attr("stroke", "#000").attr("stroke-width", 2.5).attr("marker-end", "url(#head)");
</script>
</body>
</html>
